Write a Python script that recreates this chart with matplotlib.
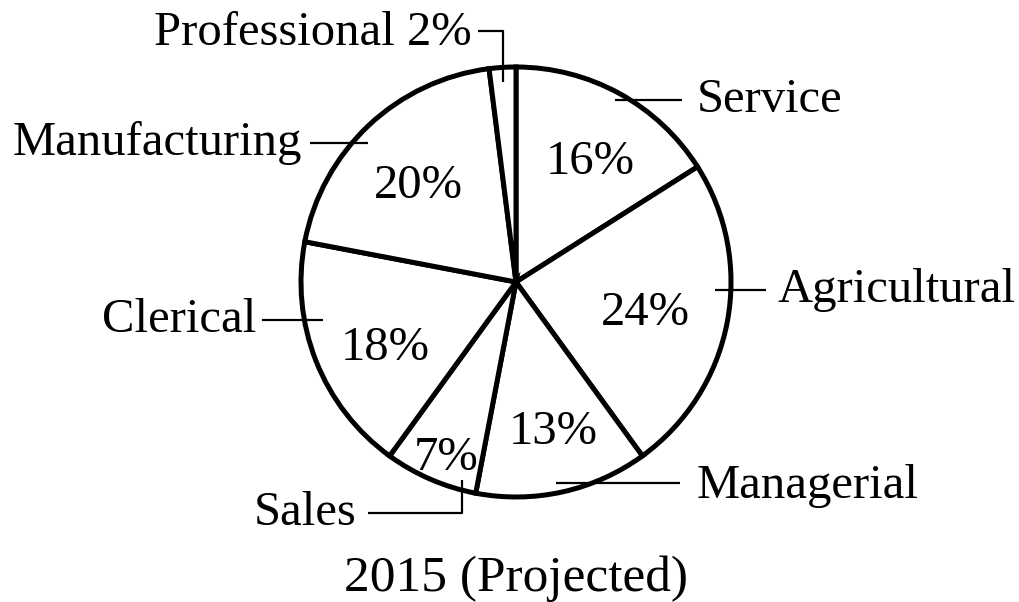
import matplotlib
matplotlib.use("Agg")
import matplotlib.pyplot as plt

# data
categories = ["Service", "Agricultural", "Managerial", "Sales",
              "Clerical", "Manufacturing", "Professional"]
shares = [16, 24, 13, 7, 18, 20, 2]

plt.rcParams['font.family'] = ['Liberation Serif', 'DejaVu Serif']

W, H = 1020, 602
fig = plt.figure(figsize=(W / 100, H / 100), dpi=100)
ax = fig.add_axes([0, 0, 1, 1])

cx, cy, r = 516, H - 282, 215

ax.pie(shares, startangle=90, counterclock=False, center=(cx, cy), radius=r,
       colors=['white'] * len(shares), frame=True,
       wedgeprops=dict(edgecolor='black', linewidth=3.6))
ax.set_xlim(0, W)
ax.set_ylim(0, H)
ax.set_aspect('equal')
ax.axis('off')

fs = 35

def P(x, y):
    return x, H - y

# percentage labels inside the slices (pixel positions from the picture)
inner_pos = {
    "Service": (590, 162),
    "Agricultural": (645, 313),
    "Managerial": (553, 432),
    "Sales": (446, 458),
    "Clerical": (385, 348),
    "Manufacturing": (418, 186),
}
for cat, val in zip(categories, shares):
    if cat in inner_pos:
        x, y = P(*inner_pos[cat])
        ax.text(x, y, f"{val}%", fontsize=fs, ha='center', va='center')

lw = 1.6
def line(pts):
    xs = [p[0] for p in pts]
    ys = [H - p[1] for p in pts]
    ax.plot(xs, ys, color='black', lw=lw, solid_capstyle='butt')

# outside labels with leader lines
line([(615, 100), (682, 100)])
ax.text(*P(697, 100), "Service", fontsize=fs, ha='left', va='center')

line([(715, 290), (766, 290)])
ax.text(*P(778, 290), "Agricultural", fontsize=fs, ha='left', va='center')

line([(556, 483), (680, 483)])
ax.text(*P(697, 486), "Managerial", fontsize=fs, ha='left', va='center')

line([(368, 513), (462, 513), (462, 480)])
ax.text(*P(357, 513), "Sales", fontsize=fs, ha='right', va='center')

line([(262, 320), (323, 320)])
ax.text(*P(256, 320), "Clerical", fontsize=fs, ha='right', va='center')

line([(310, 143), (368, 143)])
ax.text(*P(302, 143), "Manufacturing", fontsize=fs, ha='right', va='center')

line([(478, 31), (503, 31), (503, 82)])
ax.text(*P(472, 33), f"Professional {shares[6]}%", fontsize=fs, ha='right', va='center')

ax.text(*P(516, 579), "2015 (Projected)", fontsize=37, ha='center', va='center')

fig.savefig("out.png", dpi=100, facecolor='white')
